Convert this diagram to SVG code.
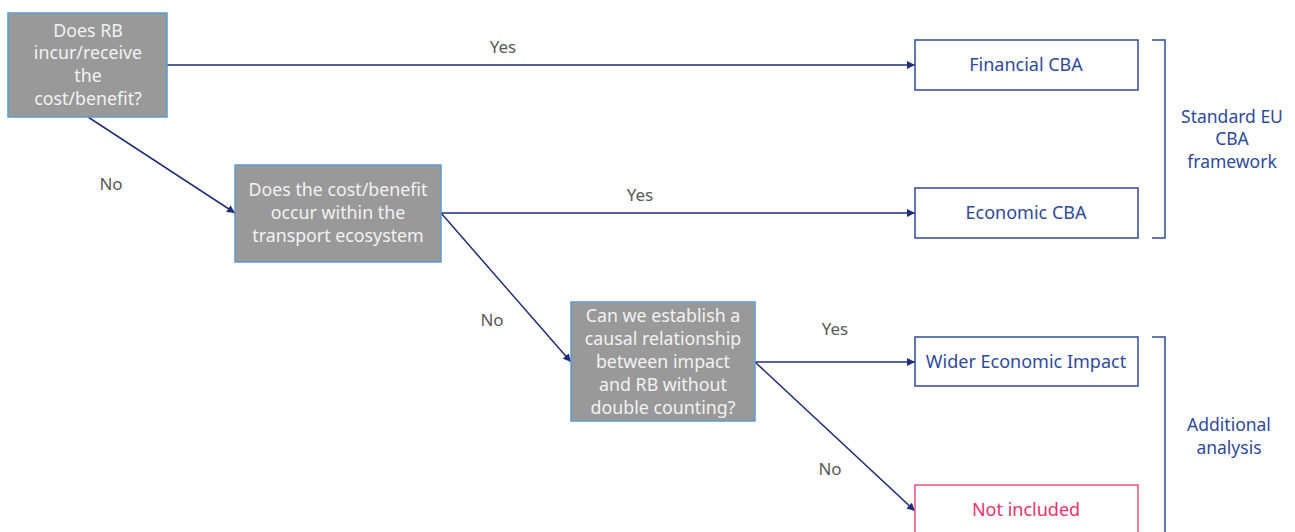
<svg xmlns="http://www.w3.org/2000/svg" width="1295" height="532" viewBox="0 0 1295 532">
<style>
.q{fill:#999999;stroke:#5b9bd5;stroke-width:1.5}
.qt{fill:#f2f2f2;font-family:"Noto Sans",sans-serif;font-size:17.8px;text-anchor:middle}
.o{fill:#ffffff;stroke:#2f4a9a;stroke-width:1.5}
.ot{fill:#2f4a9a;font-family:"Noto Sans",sans-serif;font-size:18px;text-anchor:middle}
.p{fill:#ffffff;stroke:#f0507a;stroke-width:1.5}
.pt{fill:#e8336b;font-family:"Noto Sans",sans-serif;font-size:18px;text-anchor:middle}
.c{stroke:#1f2d7a;stroke-width:1.5;fill:none;marker-end:url(#ah)}
.l{fill:#595959;font-family:"Noto Sans",sans-serif;font-size:17px;text-anchor:middle}
.b{stroke:#2f4a9a;stroke-width:1.5;fill:none}
.bt{fill:#2f4a9a;font-family:"Noto Sans",sans-serif;font-size:17.5px;text-anchor:middle}
</style>
<defs>
<marker id="ah" viewBox="0 0 10 10" refX="10" refY="5" markerWidth="8" markerHeight="8" markerUnits="userSpaceOnUse" orient="auto">
<path d="M0,0 L10,5 L0,10 z" fill="#1f2d7a"/>
</marker>
</defs>
<rect width="1295" height="532" fill="#ffffff"/>
<g id="connectors">
<line class="c" x1="167" y1="65" x2="915" y2="65"/>
<line class="c" x1="88" y1="117" x2="235" y2="213"/>
<line class="c" x1="441" y1="213" x2="915" y2="213"/>
<line class="c" x1="441" y1="213" x2="571" y2="362"/>
<line class="c" x1="755" y1="362" x2="915" y2="362"/>
<line class="c" x1="755" y1="362" x2="915" y2="511"/>
<text class="l" x="503" y="53">Yes</text>
<text class="l" x="111" y="190">No</text>
<text class="l" x="640" y="201">Yes</text>
<text class="l" x="492" y="326">No</text>
<text class="l" x="835" y="335">Yes</text>
<text class="l" x="830" y="475">No</text>
</g>
<g id="q1">
<rect class="q" x="8" y="13" width="159" height="104"/>
<text class="qt" x="88" y="37">Does RB</text>
<text class="qt" x="88" y="59">incur/receive</text>
<text class="qt" x="88" y="82">the</text>
<text class="qt" x="88" y="105">cost/benefit?</text>
</g>
<g id="q2">
<rect class="q" x="235" y="165" width="206" height="97"/>
<text class="qt" x="338" y="196">Does the cost/benefit</text>
<text class="qt" x="338" y="219">occur within the</text>
<text class="qt" x="338" y="242">transport ecosystem</text>
</g>
<g id="q3">
<rect class="q" x="571" y="302" width="184" height="119"/>
<text class="qt" x="663" y="322">Can we establish a</text>
<text class="qt" x="663" y="345">causal relationship</text>
<text class="qt" x="663" y="368">between impact</text>
<text class="qt" x="663" y="391">and RB without</text>
<text class="qt" x="663" y="414">double counting?</text>
</g>
<g id="financial">
<rect class="o" x="915" y="40" width="223" height="50"/>
<text class="ot" x="1026" y="71">Financial CBA</text>
</g>
<g id="economic">
<rect class="o" x="915" y="188" width="223" height="50"/>
<text class="ot" x="1026" y="219">Economic CBA</text>
</g>
<g id="wider">
<rect class="o" x="915" y="337" width="223" height="49"/>
<text class="ot" x="1026" y="368">Wider Economic Impact</text>
</g>
<g id="notincluded">
<rect class="p" x="915" y="485" width="223" height="60"/>
<text class="pt" x="1026" y="516">Not included</text>
</g>
<g id="standard">
<path class="b" d="M1152,40 H1165 V238 H1152"/>
<text class="bt" x="1232" y="123">Standard EU</text>
<text class="bt" x="1232" y="145">CBA</text>
<text class="bt" x="1232" y="168">framework</text>
</g>
<g id="additional">
<path class="b" d="M1152,337 H1165 V540"/>
<text class="bt" x="1229" y="431">Additional</text>
<text class="bt" x="1229" y="454">analysis</text>
</g>
</svg>
